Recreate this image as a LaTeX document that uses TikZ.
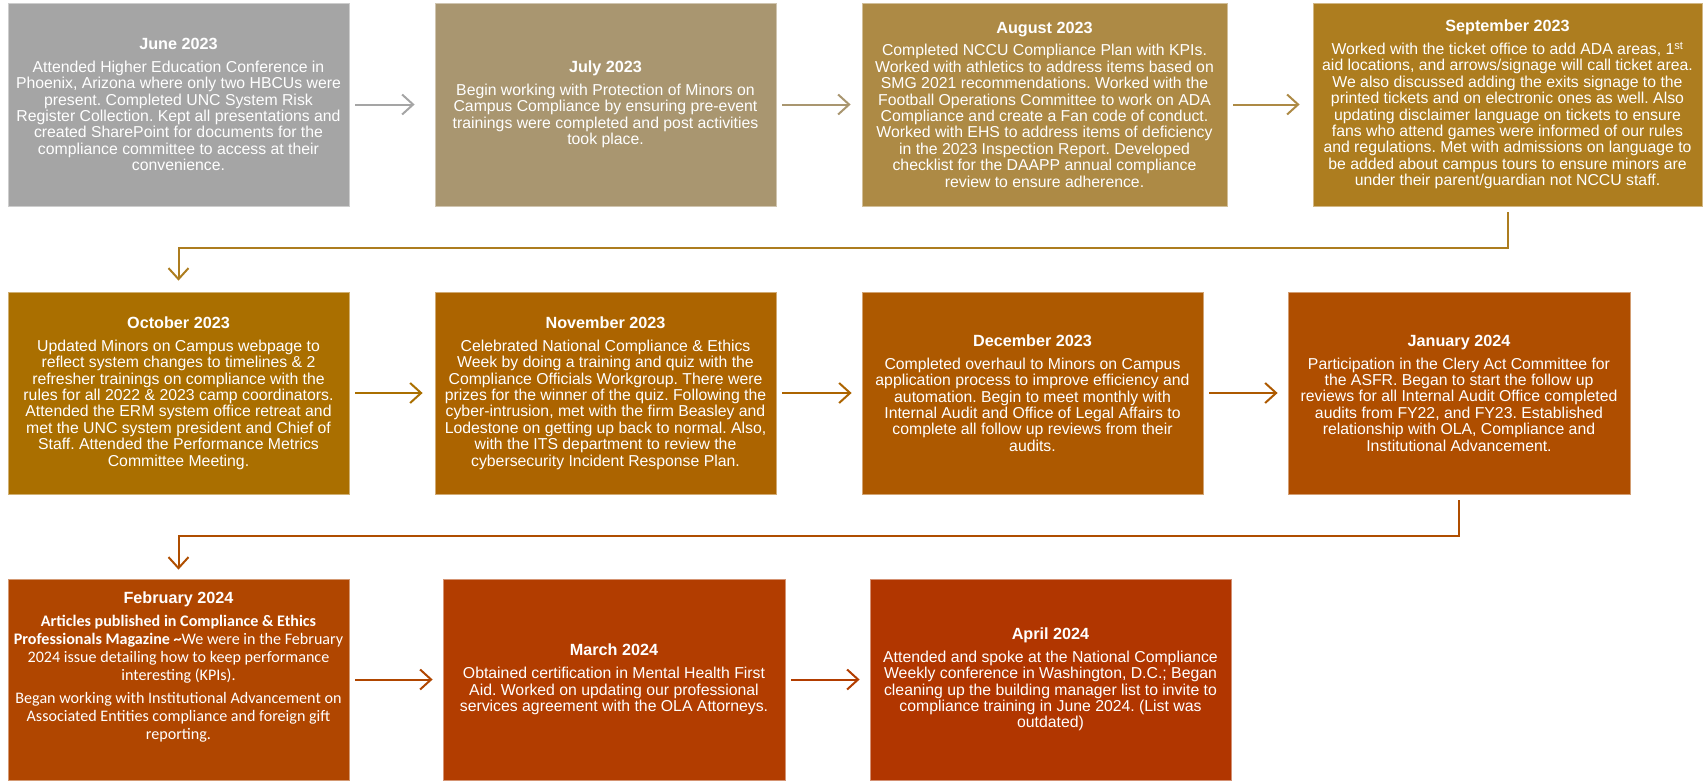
\documentclass[tikz,border=0pt]{standalone}
\usepackage{fontspec}
\setmainfont{Liberation Sans}
\newfontfamily\calibrifont{Carlito}
\usetikzlibrary{arrows.meta}
\frenchspacing
\definecolor{cjun}{HTML}{A5A5A5}
\definecolor{cjul}{HTML}{A99670}
\definecolor{caug}{HTML}{AD8A45}
\definecolor{csep}{HTML}{AD7D1F}
\definecolor{coct}{HTML}{AA6F00}
\definecolor{cnov}{HTML}{AC6400}
\definecolor{cdec}{HTML}{AD5900}
\definecolor{cjan}{HTML}{AF4E00}
\definecolor{cfeb}{HTML}{B04600}
\definecolor{cmar}{HTML}{B23D00}
\definecolor{capr}{HTML}{B13600}
\newcommand\bodysize{\frenchspacing\fontsize{15.8}{16.4}\selectfont}
\newcommand\ttl[1]{{\fontsize{16.2}{16}\selectfont\bfseries #1}\\[6.5pt]}
\tikzset{
  box/.style={rectangle, fill=#1, draw=#1!55!white, line width=0.8pt, inner sep=0pt, text=white, align=center, font=\bodysize},
  arr/.style={draw=#1, line width=2pt, -{Straight Barb[length=11pt,width=20pt]}, shorten <=6pt, shorten >=11pt},
}
\begin{document}
\begin{tikzpicture}[x=1pt,y=-1pt]
\useasboundingbox (0,0) rectangle (1706,780);
% Row 1
\node[box=cjun, minimum width=341pt, minimum height=203pt] (jun) at (178.5,104.5) {\ttl{June 2023}
Attended Higher Education Conference in\\
Phoenix, Arizona where only two HBCUs were\\
present. Completed UNC System Risk\\
Register Collection. Kept all presentations and\\
created SharePoint for documents for the\\
compliance committee to access at their\\
convenience.};
\node[box=cjul, minimum width=341pt, minimum height=203pt] (jul) at (605.5,104.5) {\ttl{July 2023}
Begin working with Protection of Minors on\\
Campus Compliance by ensuring pre-event\\
trainings were completed and post activities\\
took place.};
\node[box=caug, minimum width=365pt, minimum height=203pt] (aug) at (1044.5,104.5) {\ttl{August 2023}
Completed NCCU Compliance Plan with KPIs.\\
Worked with athletics to address items based on\\
SMG 2021 recommendations. Worked with the\\
Football Operations Committee to work on ADA\\
Compliance and create a Fan code of conduct.\\
Worked with EHS to address items of deficiency\\
in the 2023 Inspection Report. Developed\\
checklist for the DAAPP annual compliance\\
review to ensure adherence.};
\node[box=csep, minimum width=389pt, minimum height=203pt] (sep) at (1507.5,104.5) {\ttl{September 2023}
Worked with the ticket office to add ADA areas, 1\textsuperscript{st}\\
aid locations, and arrows/signage will call ticket area.\\
We also discussed adding the exits signage to the\\
printed tickets and on electronic ones as well. Also\\
updating disclaimer language on tickets to ensure\\
fans who attend games were informed of our rules\\
and regulations. Met with admissions on language to\\
be added about campus tours to ensure minors are\\
under their parent/guardian not NCCU staff.};
% Row 2
\node[box=coct, minimum width=341pt, minimum height=202pt] (oct) at (178.5,393) {\ttl{October 2023}
Updated Minors on Campus webpage to\\
reflect system changes to timelines \& 2\\
refresher trainings on compliance with the\\
rules for all 2022 \& 2023 camp coordinators.\\
Attended the ERM system office retreat and\\
met the UNC system president and Chief of\\
Staff. Attended the Performance Metrics\\
Committee Meeting.};
\node[box=cnov, minimum width=341pt, minimum height=202pt] (nov) at (605.5,393) {\ttl{November 2023}
Celebrated National Compliance \& Ethics\\
Week by doing a training and quiz with the\\
Compliance Officials Workgroup. There were\\
prizes for the winner of the quiz. Following the\\
cyber-intrusion, met with the firm Beasley and\\
Lodestone on getting up back to normal. Also,\\
with the ITS department to review the\\
cybersecurity Incident Response Plan.};
\node[box=cdec, minimum width=341pt, minimum height=202pt] (dec) at (1032.5,393) {\ttl{December 2023}
Completed overhaul to Minors on Campus\\
application process to improve efficiency and\\
automation. Begin to meet monthly with\\
Internal Audit and Office of Legal Affairs to\\
complete all follow up reviews from their\\
audits.};
\node[box=cjan, minimum width=342pt, minimum height=202pt] (jan) at (1459,393) {\ttl{January 2024}
Participation in the Clery Act Committee for\\
the ASFR. Began to start the follow up\\
reviews for all Internal Audit Office completed\\
audits from FY22, and FY23. Established\\
relationship with OLA, Compliance and\\
Institutional Advancement.};
% Row 3
\node[box=cfeb, minimum width=341pt, minimum height=201pt] (feb) at (178.5,679.5) {};
\node[text=white, align=center, inner sep=0pt, font={\frenchspacing\calibrifont\fontsize{16.1}{17.8}\selectfont}] (febtext) at (178.5,667) {{\rmfamily\fontsize{16.2}{16}\selectfont\bfseries February 2024}\\[5pt]
\textbf{Articles published in Compliance \& Ethics}\\
\textbf{Professionals Magazine \textasciitilde}We were in the February\\
2024 issue detailing how to keep performance\\
interesting (KPIs).\\[5.5pt]
Began working with Institutional Advancement on\\
Associated Entities compliance and foreign gift\\
reporting.};
\node[box=cmar, minimum width=342pt, minimum height=201pt] (mar) at (614,679.5) {\ttl{March 2024}
Obtained certification in Mental Health First\\
Aid. Worked on updating our professional\\
services agreement with the OLA Attorneys.};
\node[box=capr, minimum width=361pt, minimum height=201pt] (apr) at (1050.5,679.5) {\ttl{April 2024}
Attended and spoke at the National Compliance\\
Weekly conference in Washington, D.C.; Began\\
cleaning up the building manager list to invite to\\
compliance training in June 2024. (List was\\
outdated)};
% Connectors
\draw[arr=cjun, shorten >=20pt] (jun) -- (jul);
\draw[arr=cjul] (jul) -- (aug);
\draw[arr=caug, shorten >=13pt] (aug) -- (sep);
\coordinate (t1) at (178.5,248);
\draw[arr=csep, shorten >=11pt] (sep.south) |- (t1) -- (oct.north);
\draw[arr=coct, shorten >=12pt] (oct) -- (nov);
\draw[arr=cnov, shorten >=10pt] (nov) -- (dec);
\draw[arr=cdec, shorten >=10pt] (dec) -- (jan);
\coordinate (t2) at (178.5,536);
\draw[arr=cjan, shorten >=9pt] (jan.south) |- (t2) -- (feb.north);
\draw[arr=cfeb, shorten >=10pt] (feb) -- (mar);
\draw[arr=cmar, shorten >=10pt] (mar) -- (apr);
\end{tikzpicture}
\end{document}
